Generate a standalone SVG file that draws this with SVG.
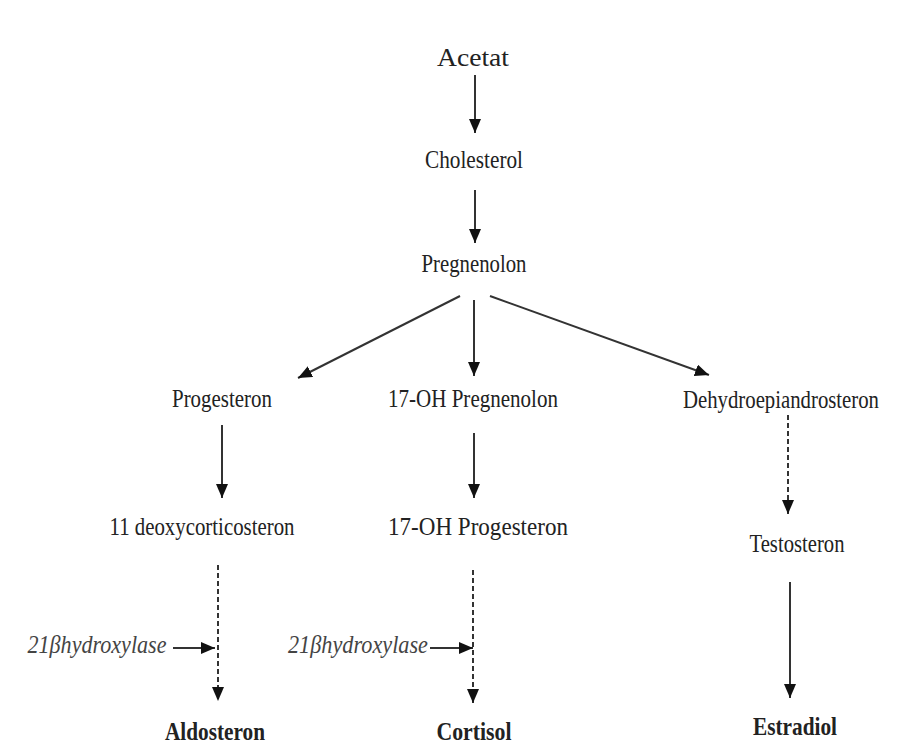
<svg xmlns="http://www.w3.org/2000/svg" width="905" height="748" viewBox="0 0 905 748">
<defs>
<style>
.t{font-family:"Liberation Serif","Times New Roman",serif;font-size:26px;fill:#222;text-anchor:middle}
.b{font-weight:bold}
.i{font-style:italic;fill:#444}
.c{stroke:#333;stroke-width:2;fill:none}
.d{stroke-dasharray:5 3}
</style>
<marker id="ah" markerUnits="userSpaceOnUse" markerWidth="14" markerHeight="12" viewBox="0 0 14 12" refX="14" refY="6" orient="auto">
<path d="M0,0 L14,6 L0,12 Z" fill="#111"/>
</marker>
</defs>
<rect width="905" height="748" fill="#fff"/>
<g id="connectors">
<line class="c" x1="475" y1="75" x2="475" y2="133" marker-end="url(#ah)"/>
<line class="c" x1="475" y1="190" x2="475" y2="243" marker-end="url(#ah)"/>
<line class="c" x1="460" y1="296" x2="298" y2="378" marker-end="url(#ah)"/>
<line class="c" x1="474" y1="300" x2="474" y2="376" marker-end="url(#ah)"/>
<line class="c" x1="490" y1="296" x2="709" y2="375" marker-end="url(#ah)"/>
<line class="c" x1="222" y1="425" x2="222" y2="498" marker-end="url(#ah)"/>
<line class="c" x1="474" y1="433" x2="474" y2="498" marker-end="url(#ah)"/>
<line class="c d" x1="788" y1="415" x2="788" y2="514" marker-end="url(#ah)"/>
<line class="c d" x1="218" y1="565" x2="218" y2="701" marker-end="url(#ah)"/>
<line class="c" x1="173" y1="648" x2="215" y2="648" marker-end="url(#ah)"/>
<line class="c d" x1="473" y1="570" x2="473" y2="703" marker-end="url(#ah)"/>
<line class="c" x1="430" y1="648" x2="473" y2="648" marker-end="url(#ah)"/>
<line class="c" x1="790" y1="582" x2="790" y2="698" marker-end="url(#ah)"/>
</g>
<g id="acetat"><text class="t" x="473" y="66" font-size="30" textLength="72" lengthAdjust="spacingAndGlyphs">Acetat</text></g>
<g id="cholesterol"><text class="t" x="474" y="168" textLength="98" lengthAdjust="spacingAndGlyphs">Cholesterol</text></g>
<g id="pregnenolon"><text class="t" x="474" y="272" textLength="105" lengthAdjust="spacingAndGlyphs">Pregnenolon</text></g>
<g id="progesteron"><text class="t" x="222" y="407" textLength="100" lengthAdjust="spacingAndGlyphs">Progesteron</text></g>
<g id="oh-pregnenolon"><text class="t" x="473" y="407" textLength="170" lengthAdjust="spacingAndGlyphs">17-OH Pregnenolon</text></g>
<g id="dhea"><text class="t" x="781" y="408" font-size="22" textLength="196" lengthAdjust="spacingAndGlyphs">Dehydroepiandrosteron</text></g>
<g id="deoxycorticosteron"><text class="t" x="202" y="535" textLength="185" lengthAdjust="spacingAndGlyphs">11 deoxycorticosteron</text></g>
<g id="oh-progesteron"><text class="t" x="478" y="535" textLength="180" lengthAdjust="spacingAndGlyphs">17-OH Progesteron</text></g>
<g id="testosteron"><text class="t" x="797" y="552" textLength="95" lengthAdjust="spacingAndGlyphs">Testosteron</text></g>
<g id="enzyme1"><text class="t i" x="97" y="653" textLength="139" lengthAdjust="spacingAndGlyphs">21βhydroxylase</text></g>
<g id="enzyme2"><text class="t i" x="358" y="653" textLength="140" lengthAdjust="spacingAndGlyphs">21βhydroxylase</text></g>
<g id="aldosteron"><text class="t b" x="215" y="740" textLength="100" lengthAdjust="spacingAndGlyphs">Aldosteron</text></g>
<g id="cortisol"><text class="t b" x="474" y="740" textLength="75" lengthAdjust="spacingAndGlyphs">Cortisol</text></g>
<g id="estradiol"><text class="t b" x="795" y="735" textLength="84" lengthAdjust="spacingAndGlyphs">Estradiol</text></g>
</svg>
